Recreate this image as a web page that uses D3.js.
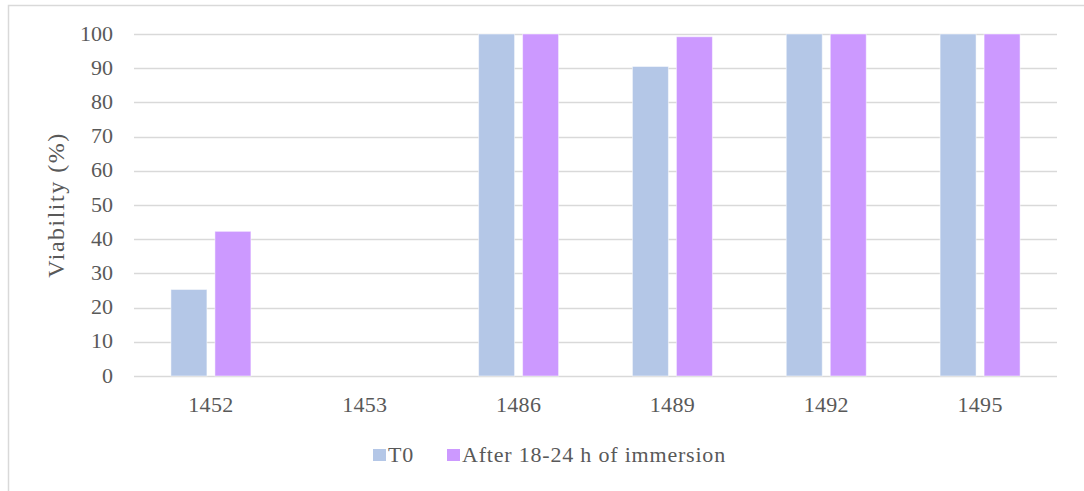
<!DOCTYPE html>
<html><head><meta charset="utf-8">
<script src="https://cdn.jsdelivr.net/npm/d3@7"></script>
<style>body{margin:0;background:#fff}</style>
</head><body><svg id="c" width="1084" height="491"></svg>
<script>
const categories = ["1452","1453","1486","1489","1492","1495"];
const seriesNames = ["T0","After 18-24 h of immersion"];
const t0Values = [25.3, 0, 100, 90.5, 100, 100];
const afterValues = [42.3, 0, 100, 99.2, 100, 100];
const yTicks = [0,10,20,30,40,50,60,70,80,90,100];
const colors = ["#b4c7e7","#cc99ff"];

(function(){
const FF = "'Liberation Serif', 'Times New Roman', Tinos, 'DejaVu Serif', serif";
const svg = d3.select("#c");
svg.append("rect").attr("x",8.5).attr("y",5.5).attr("width",1100).attr("height",500)
  .attr("fill","#fff").attr("stroke","#d9d9d9").attr("stroke-width",1.5);

const pL=134, pR=1057, pT=34, pB=376;
const x = d3.scaleBand().domain(categories).range([pL,pR]);
const y = d3.scaleLinear().domain([0,100]).range([pB,pT]);

svg.append("g").selectAll("line").data(yTicks).join("line")
  .attr("x1",pL).attr("x2",pR).attr("y1",d=>Math.round(y(d))+0.5).attr("y2",d=>Math.round(y(d))+0.5)
  .attr("stroke","#d9d9d9").attr("stroke-width",1.3);

const yAxis = d3.axisLeft(y).tickValues(yTicks).tickSize(0).tickPadding(21);
const ya = svg.append("g").attr("transform",`translate(${pL},0)`).call(yAxis);
ya.select(".domain").remove();
ya.attr("font-family",FF).attr("font-size",22);
ya.selectAll("text").attr("font-family",FF).attr("font-size",22).attr("fill","#595959").attr("dy","0.28em");

const xAxis = d3.axisBottom(x).tickSize(0).tickPadding(20);
const xa = svg.append("g").attr("transform",`translate(0,${pB})`).call(xAxis);
xa.select(".domain").remove();
xa.attr("font-family",FF).attr("font-size",22);
xa.selectAll("text").attr("font-family",FF).attr("font-size",22).attr("letter-spacing",0.3).attr("fill","#595959");

const data = categories.map((c,i)=>({c, vals:[t0Values[i], afterValues[i]]}));
const bw = 36, gap = 8;
data.forEach(d=>{
  const cx = x(d.c)+x.bandwidth()/2;
  d.vals.forEach((v,j)=>{
    if(v<=0) return;
    const bx = j===0 ? cx-gap/2-bw : cx+gap/2;
    svg.append("rect").attr("x",bx).attr("y",y(v)).attr("width",bw).attr("height",y(0)-y(v))
      .attr("fill",colors[j]).attr("stroke","#fff").attr("stroke-opacity",0.5).attr("stroke-width",1);
  });
});

svg.append("text").attr("transform","translate(64,205) rotate(-90)").attr("text-anchor","middle")
  .attr("font-family",FF).attr("fill","#595959")
  .attr("font-size",24).attr("letter-spacing",1.5).text("Viability (%)");

const legX=[373,447];
seriesNames.forEach((n,i)=>{
  svg.append("rect").attr("x",legX[i]).attr("y",449).attr("width",13).attr("height",12).attr("fill",colors[i]);
  svg.append("text").attr("x",legX[i]+15).attr("y",462).attr("font-family",FF).attr("fill","#595959")
    .attr("font-size",22).attr("letter-spacing",0.8).text(n);
});
})();
</script></body></html>
